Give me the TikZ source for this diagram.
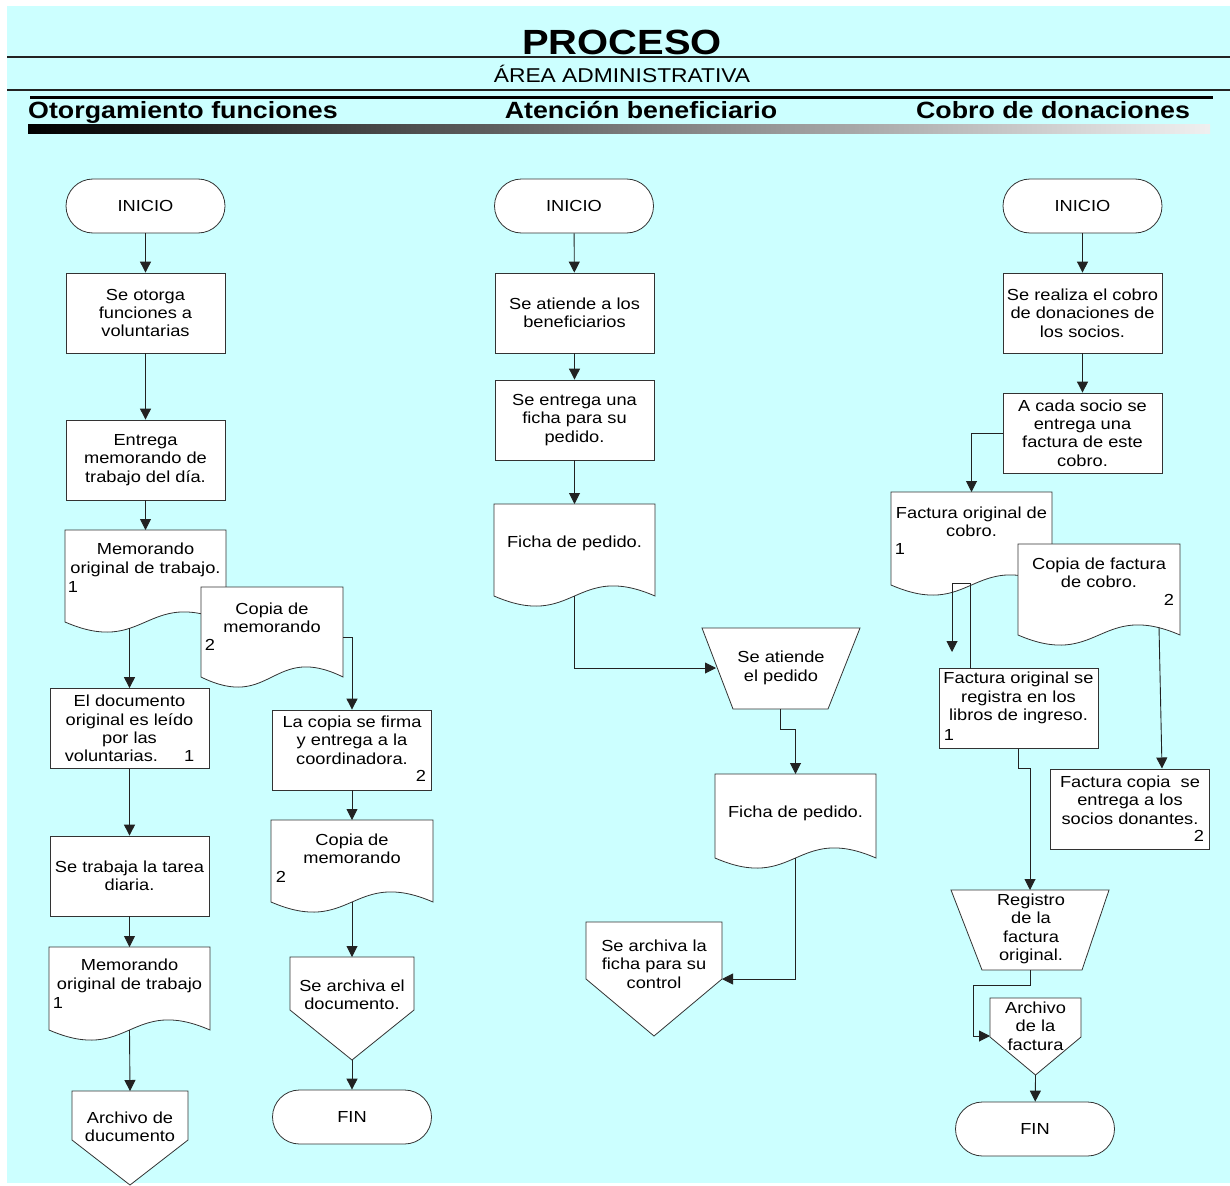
\documentclass[tikz,border=0pt]{standalone}
\usepackage{fontspec}
\setmainfont{Liberation Sans}[FakeStretch=1.14]
\usetikzlibrary{arrows.meta}
\definecolor{bg}{HTML}{CCFFFF}
\definecolor{ln}{HTML}{222222}
\newcommand\fs{\fontsize{16}{18.3}\selectfont}
\newcommand\docshape[5]{%
  \draw[shp] (#2,#3) -- (#4,#3) -- (#4,#5) .. controls ({(#2+#4)/2},{#5-35}) and ({(#2+#4)/2},{#5+35}) .. (#2,#5) -- cycle;
  \coordinate (#1-top) at ({(#2+#4)/2},#3);}
\newcommand\offpage[6]{%
  \draw[shp] (#2,#3) -- (#4,#3) -- (#4,#5) -- ({(#2+#4)/2},#6) -- (#2,#5) -- cycle;
  \coordinate (#1-top) at ({(#2+#4)/2},#3);
  \coordinate (#1-tip) at ({(#2+#4)/2},#6);}
\newcommand\manualop[7]{%
  \draw[shp] (#2,#4) -- (#3,#4) -- (#6,#7) -- (#5,#7) -- cycle;
  \coordinate (#1-top) at ({(#2+#3)/2},#4);
  \coordinate (#1-bot) at ({(#5+#6)/2},#7);}
\begin{document}
\begin{tikzpicture}[x=1pt,y=-1pt,
  shp/.style={draw=black!80, fill=white, line width=0.8pt},
  proc/.style={shp, rectangle, minimum width=159pt, minimum height=80pt, inner sep=0pt, font=\fs, align=center},
  term/.style={shp, rectangle, rounded corners=27pt, minimum width=159pt, minimum height=54pt, inner sep=0pt, font=\fs},
  txt/.style={font=\fs, align=center, inner sep=0pt},
  arr/.style={draw=ln, line width=0.9pt, -{Triangle[length=11pt,width=11pt]}},
  con/.style={draw=ln, line width=0.9pt},
]
\fill[white] (0,0) rectangle (1230,1185);
\fill[bg] (7,6) rectangle (1230,1183);
\useasboundingbox (0,0) rectangle (1230,1185);

% header
\node[font=\bfseries\fontsize{35}{40}\selectfont, anchor=base, inner sep=0pt] (title) at (622,55) {PROCESO};
\draw[ln, line width=1.2pt] (7,57) -- (1230,57);
\node[font=\fontsize{20}{22}\selectfont, anchor=base, inner sep=0pt] (area) at (622,83) {ÁREA ADMINISTRATIVA};
\draw[ln, line width=1.2pt] (7,90) -- (1230,90);
\draw[black, line width=3pt] (30,98) -- (1213,98);
\node[font=\bfseries\fontsize{23.5}{26}\selectfont, anchor=base west, inner sep=0pt] (h1) at (28,119) {Otorgamiento funciones};
\node[font=\bfseries\fontsize{23.5}{26}\selectfont, anchor=base, inner sep=0pt] (h2) at (641,119) {Atención beneficiario};
\node[font=\bfseries\fontsize{23.5}{26}\selectfont, anchor=base, inner sep=0pt] (h3) at (1053,119) {Cobro de donaciones};
\shade[left color=black, right color=black!6] (28,125) rectangle (1210,134);

% ---------- left column
\node[term] (i1) at (145.5,206) {INICIO};
\node[proc] (p1) at (145.5,313) {Se otorga\\funciones a\\voluntarias};
\node[proc] (p2) at (145.5,460) {Entrega\\memorando de\\trabajo del día.};
\docshape{d1}{65}{530}{226}{622}
\node[txt] (d1t) at (145.5,560) {Memorando\\original de trabajo.};
\node[txt] (d1n) at (73,587) {1};
\docshape{d2}{201}{587}{343}{677}
\node[txt] (d2t) at (272,618) {Copia de\\memorando};
\node[txt] (d2n) at (210,645) {2};
\node[proc] (p3) at (129.5,728.5) {El documento\\original es leído\\por las\\voluntarias.\hspace{26pt}1};
\node[proc] (p4) at (352,750) {};
\node[txt] (p4t) at (352,740) {La copia se firma\\y entrega a la\\coordinadora.};
\node[txt] (p4n) at (421,776) {2};
\node[proc] (p5) at (129.5,876) {Se trabaja la tarea\\diaria.};
\docshape{d3}{271}{820}{433}{902}
\node[txt] (d3t) at (352,849) {Copia de\\memorando};
\node[txt] (d3n) at (281,877) {2};
\docshape{d4}{49}{947}{210}{1030}
\node[txt] (d4t) at (129.5,976) {Memorando\\original de trabajo};
\node[txt] (d4n) at (58,1003) {1};
\offpage{o1}{290}{957}{414}{1010}{1060}
\node[txt] (o1t) at (352,995) {Se archiva el\\documento.};
\node[term] (f1) at (352,1117) {FIN};
\offpage{o2}{72}{1091}{188}{1140}{1185}
\node[txt] (o2t) at (130,1127) {Archivo de\\ducumento};

% ---------- middle column
\node[term] (i2) at (574,206) {INICIO};
\node[proc] (p6) at (574.5,313) {Se atiende a los\\beneficiarios};
\node[proc] (p7) at (574.5,420) {Se entrega una\\ficha para su\\pedido.};
\docshape{d5}{494}{504}{655}{596}
\node[txt] (d5t) at (574.5,543) {Ficha de pedido.};
\manualop{t1}{702}{860}{628}{733}{828}{709}
\node[txt] (t1t) at (781,668) {Se atiende\\el pedido};
\docshape{d6}{715}{774}{876}{858}
\node[txt] (d6t) at (795.5,813) {Ficha de pedido.};
\offpage{o3}{586}{922}{722}{979}{1036}
\node[txt] (o3t) at (654,964) {Se archiva la\\ficha para su\\control};

% ---------- right column
\node[term] (i3) at (1082.5,206) {INICIO};
\node[proc] (p8) at (1082.5,313) {Se realiza el cobro\\de donaciones de\\los socios.};
\node[proc] (p9) at (1082.5,433) {A cada socio se\\entrega una\\factura de este\\cobro.};
\docshape{d7}{891}{492}{1052}{585}
\node[txt] (d7t) at (971.5,522) {Factura original de\\cobro.};
\node[txt] (d7n) at (900,549) {1};
\docshape{d8}{1018}{544}{1180}{635}
\node[txt] (d8t) at (1099,573) {Copia de factura\\de cobro.};
\node[txt] (d8n) at (1169,600) {2};
\node[proc] (p10) at (1018.5,708.5) {};
\node[txt] (p10t) at (1018.5,698) {Factura original se\\registra en los\\libros de ingreso.};
\node[txt] (p10n) at (949,735) {1};
\node[proc] (p11) at (1130,809) {};
\node[txt] (p11t) at (1130,800) {Factura copia~ se\\entrega a los\\socios donantes.};
\node[txt] (p11n) at (1199,836) {2};
\manualop{t2}{951}{1109}{890}{982}{1082}{970}
\node[txt] (t2t) at (1031,929) {Registro\\de la\\factura\\original.};
\offpage{o4}{990}{998}{1081}{1037}{1075}
\node[txt] (o4t) at (1035.5,1026) {Archivo\\de la\\factura};
\node[term] (f2) at (1035,1129) {FIN};

% ---------- connectors
\coordinate (d1b) at (129.5,628);
\coordinate (d2r) at (343,637);
\coordinate (d3b) at (352,902);
\coordinate (d4b) at (129.5,1030);
\coordinate (d5b) at (574.5,596);
\coordinate (t1l) at (716,668);
\coordinate (d6b) at (795.5,858);
\coordinate (o3r) at (722,979);
\coordinate (d7a) at (952,583);
\coordinate (d7z) at (952,652);
\coordinate (p10in) at (970,668.5);
\coordinate (d8b) at (1159,627);
\coordinate (p11in) at (1162,768.5);
\coordinate (t2b) at (1030,970);
\coordinate (o4l) at (990,1036);

\draw[arr] (i1) -- (p1);
\draw[arr] (p1) -- (p2);
\draw[arr] (p2) -- (d1-top);
\draw[arr] (d1b) -- (p3.north);
\draw[arr] (d2r) -| (p4.north);
\draw[arr] (p3) -- (p5);
\draw[arr] (p4.south) -- (d3-top);
\draw[arr] (p5.south) -- (d4-top);
\draw[arr] (d3b) -- (o1-top);
\draw[arr] (o1-tip) -- (f1);
\draw[arr] (d4b) -- (o2-top);

\draw[arr] (i2) -- (p6);
\draw[arr] (p6) -- (p7);
\draw[arr] (p7.south) -- (d5-top);
\draw[arr] (d5b) |- (t1l);
\draw[arr] (t1-bot) -- ++(0,20) -| (d6-top);
\draw[arr] (d6b) |- (o3r);

\draw[arr] (i3) -- (p8);
\draw[arr] (p8) -- (p9);
\draw[arr] (p9.west) -| (d7-top);
\draw[arr] (d7a) -- (d7z);
\draw[con] (d7a) -| (p10in);
\draw[arr] (d8b) -- (p11in);
\draw[arr] (p10.south) -- ++(0,19.5) -| (t2-top);
\draw[arr] (t2b) -- ++(0,15) -- ++(-57,0) |- (o4l);
\draw[arr] (o4-tip) -- (f2);
\end{tikzpicture}
\end{document}
